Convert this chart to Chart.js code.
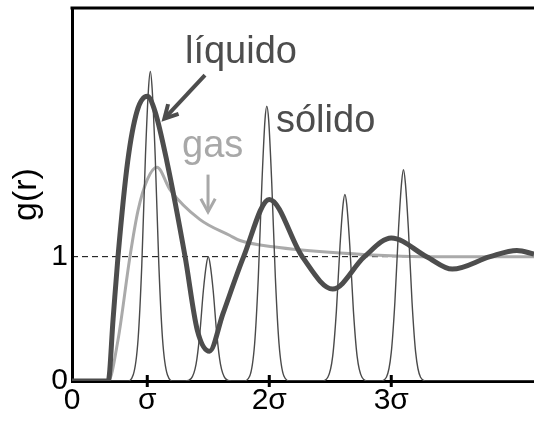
<!DOCTYPE html>
<html>
<head>
<meta charset="utf-8">
<script src="https://cdn.jsdelivr.net/npm/chart.js@4/dist/chart.umd.min.js"></script>
<style>
    html, body { margin: 0; padding: 0; background: #fff; overflow: hidden; }
    #wrap { width: 534px; height: 424px; position: relative; }
</style>
</head>
<body>
<div id="wrap"><canvas id="chart1" width="534" height="424"></canvas></div>
<script>
// ------------------------------- DATA

var rMin = 0.383
var rMax = 4.17
var gMax = 3

var tickR = [rMin, 1, 2, 3]
var tickText = ['0', 'σ', '2σ', '3σ']

var liquidR = [0.383, 0.68, 0.72, 0.76, 0.84, 0.916, 1.0, 1.063, 1.16, 1.31, 1.41, 1.51, 1.62, 1.79, 2.0, 2.27, 2.52, 2.78, 3.0, 3.29, 3.5, 3.81, 4.03, 4.17, 4.25]
var liquidG = [0, 0, 0.5, 1.0, 1.77, 2.17, 2.29, 2.17, 1.77, 1.0, 0.41, 0.24, 0.54, 1.0, 1.46, 1.0, 0.74, 1.0, 1.15, 1.0, 0.9, 1.0, 1.05, 1.02, 1.0]

var gasR = [0.383, 0.68, 0.76, 0.858, 0.924, 1.0, 1.08, 1.186, 1.43, 1.678, 1.76, 2.03, 2.58, 3.32, 4.25]
var gasG = [0, 0, 0.33, 1.0, 1.37, 1.62, 1.72, 1.54, 1.3, 1.17, 1.13, 1.08, 1.03, 1.0, 1.0]

var solidR = [0.383,
    0.835, 0.885, 0.925, 0.955, 0.985, 1.01, 1.025, 1.04, 1.065, 1.095, 1.125, 1.165, 1.215,
    1.31, 1.36, 1.40, 1.43, 1.46, 1.485, 1.50, 1.515, 1.54, 1.57, 1.60, 1.64, 1.69,
    1.79, 1.84, 1.88, 1.91, 1.94, 1.965, 1.98, 1.995, 2.02, 2.05, 2.08, 2.12, 2.17,
    2.43, 2.48, 2.52, 2.55, 2.58, 2.605, 2.62, 2.635, 2.66, 2.69, 2.72, 2.76, 2.81,
    2.91, 2.96, 3.0, 3.03, 3.06, 3.085, 3.10, 3.115, 3.14, 3.17, 3.20, 3.24, 3.29,
    4.25]
var solidG = [0,
    0, 0.05, 0.34, 0.93, 1.81, 2.35, 2.49, 2.35, 1.81, 0.93, 0.34, 0.05, 0,
    0, 0.02, 0.135, 0.375, 0.73, 0.94, 1.0, 0.94, 0.73, 0.375, 0.135, 0.02, 0,
    0, 0.04, 0.3, 0.83, 1.6, 2.1, 2.21, 2.1, 1.6, 0.83, 0.3, 0.04, 0,
    0, 0.03, 0.2, 0.56, 1.09, 1.42, 1.5, 1.42, 1.09, 0.56, 0.2, 0.03, 0,
    0, 0.03, 0.23, 0.64, 1.23, 1.6, 1.7, 1.6, 1.23, 0.64, 0.23, 0.03, 0,
    0]

var refR = [rMin, rMax]
var refG = [1, 1]

// labels: [text, r, g, colour]
var notes = [
    ['líquido', 1.309, 2.56, '#4d4d4d'],
    ['sólido', 2.055, 2.0, '#4d4d4d'],
    ['gas', 1.285, 1.8, '#a8a8a8']
]
// arrows: [r0, g0, r1, g1, colour, width]
var arrows = [
    [1.473, 2.46, 1.14, 2.11, '#4d4d4d', 4],
    [1.498, 1.66, 1.498, 1.36, '#a8a8a8', 3]
]

// ------------------------------- CHART

var font = '"Liberation Sans", Arial, sans-serif'

var pts = (xs, ys) => xs.map((x, i) => ({x: x, y: ys[i]}))

var extras = {
    id: 'extras',
    afterDraw: (chart) => {
        let ctx = chart.ctx
        let xs = chart.scales.x
        let ys = chart.scales.y
        let area = chart.chartArea
        ctx.save()
        // top frame line
        ctx.strokeStyle = '#000'
        ctx.lineWidth = 3
        ctx.beginPath()
        ctx.moveTo(area.left - 1.5, area.top)
        ctx.lineTo(area.right, area.top)
        ctx.stroke()
        // ticks crossing the x axis
        ctx.lineWidth = 3
        tickR.slice(1).forEach(v => {
            let px = xs.getPixelForValue(v)
            ctx.beginPath()
            ctx.moveTo(px, area.bottom - 6)
            ctx.lineTo(px, area.bottom + 6)
            ctx.stroke()
        })
        // curve labels
        ctx.font = '38px ' + font
        ctx.textBaseline = 'alphabetic'
        ctx.textAlign = 'left'
        notes.forEach(n => {
            ctx.fillStyle = n[3]
            ctx.fillText(n[0], xs.getPixelForValue(n[1]), ys.getPixelForValue(n[2]))
        })
        // arrows with open heads
        arrows.forEach(a => {
            let x0 = xs.getPixelForValue(a[0]), y0 = ys.getPixelForValue(a[1])
            let x1 = xs.getPixelForValue(a[2]), y1 = ys.getPixelForValue(a[3])
            let ang = Math.atan2(y1 - y0, x1 - x0)
            let len = 15
            ctx.strokeStyle = a[4]
            ctx.lineWidth = a[5]
            ctx.lineCap = 'butt'
            ctx.beginPath()
            ctx.moveTo(x0, y0)
            ctx.lineTo(x1, y1)
            ctx.stroke()
            ctx.beginPath()
            ctx.moveTo(x1 - len * Math.cos(ang - 0.5), y1 - len * Math.sin(ang - 0.5))
            ctx.lineTo(x1, y1)
            ctx.lineTo(x1 - len * Math.cos(ang + 0.5), y1 - len * Math.sin(ang + 0.5))
            ctx.stroke()
        })
        ctx.restore()
    }
}

var line = (data, color, width, order, extra) => Object.assign({
    data: data,
    borderColor: color,
    borderWidth: width,
    pointRadius: 0,
    fill: false,
    cubicInterpolationMode: 'monotone',
    order: order
}, extra || {})

var chart = document.getElementById('chart1')
var gr = new Chart(chart, {
    type: 'line',
    data: {
        datasets: [
            line(pts(solidR, solidG), '#4a4a4a', 1.4, 0),
            line(pts(liquidR, liquidG), '#4d4d4d', 5, 1),
            line(pts(gasR, gasG), '#aaaaaa', 3, 2),
            line(pts(refR, refG), '#000', 1, 3, {borderDash: [6, 4], cubicInterpolationMode: 'default', tension: 0})
        ]
    },
    options: {
        responsive: false,
        animation: false,
        devicePixelRatio: 1,
        layout: {padding: {top: 8, right: 0, left: 0, bottom: 0}},
        plugins: {legend: {display: false}, tooltip: {enabled: false}},
        scales: {
            x: {
                type: 'linear',
                min: rMin,
                max: rMax,
                afterBuildTicks: (s) => { s.ticks = tickR.map(v => ({value: v})) },
                afterFit: (s) => { s.height = 43; s.paddingLeft = 0; s.paddingRight = 0 },
                grid: {display: false, drawTicks: false},
                border: {display: true, color: '#000', width: 3},
                ticks: {
                    callback: (v, i) => tickText[i],
                    color: '#000',
                    font: {family: font, size: 30},
                    padding: 2,
                    maxRotation: 0,
                    autoSkip: false
                }
            },
            y: {
                min: 0,
                max: gMax,
                afterBuildTicks: (s) => { s.ticks = [{value: 0}, {value: 1}] },
                afterFit: (s) => { s.width = 72; s.paddingTop = 0; s.paddingBottom = 0 },
                grid: {display: false, drawTicks: false},
                border: {display: true, color: '#000', width: 3},
                title: {
                    display: true,
                    text: 'g(r)',
                    color: '#000',
                    font: {family: font, size: 34},
                    padding: {top: 6, bottom: 0}
                },
                ticks: {
                    color: '#000',
                    font: {family: font, size: 30},
                    padding: 4
                }
            }
        }
    },
    plugins: [extras]
})
</script>
</body>
</html>
